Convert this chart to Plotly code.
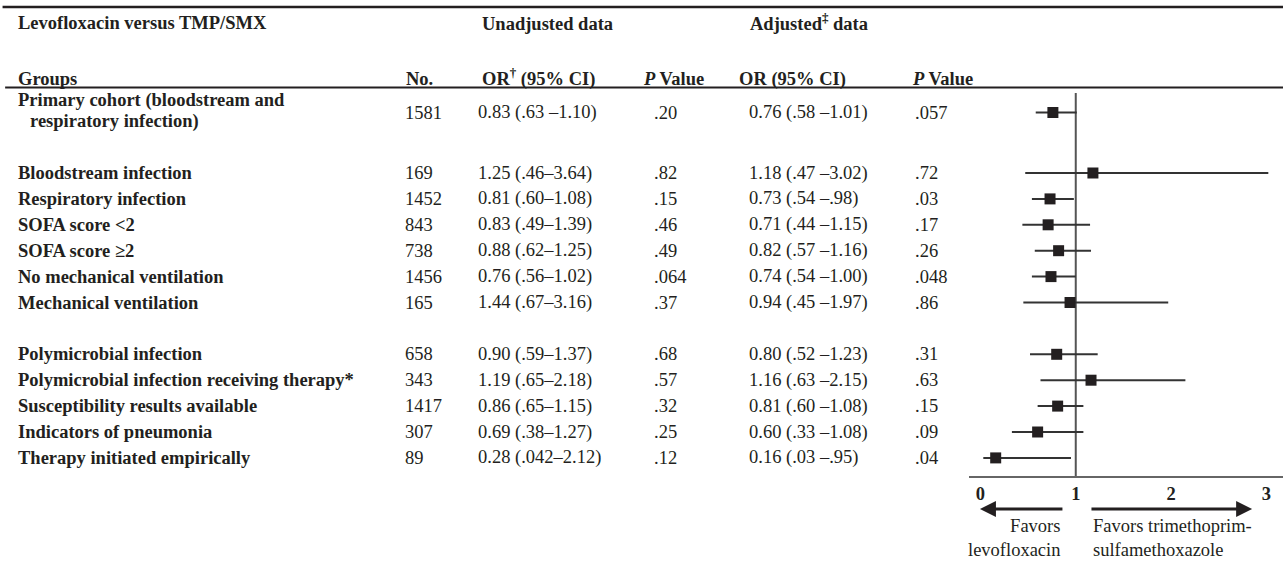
import plotly.graph_objects as go

# ---------------- data ----------------
GROUPS = [
    "Primary cohort (bloodstream and<br>respiratory infection)",
    "Bloodstream infection",
    "Respiratory infection",
    "SOFA score <2",
    "SOFA score ≥2",
    "No mechanical ventilation",
    "Mechanical ventilation",
    "Polymicrobial infection",
    "Polymicrobial infection receiving therapy*",
    "Susceptibility results available",
    "Indicators of pneumonia",
    "Therapy initiated empirically",
]
BLOCK = [0, 1, 1, 1, 1, 1, 1, 2, 2, 2, 2, 2]
N = [1581, 169, 1452, 843, 738, 1456, 165, 658, 343, 1417, 307, 89]

UNADJ_OR = [0.83, 1.25, 0.81, 0.83, 0.88, 0.76, 1.44, 0.90, 1.19, 0.86, 0.69, 0.28]
UNADJ_LO = [0.63, 0.46, 0.60, 0.49, 0.62, 0.56, 0.67, 0.59, 0.65, 0.65, 0.38, 0.042]
UNADJ_HI = [1.10, 3.64, 1.08, 1.39, 1.25, 1.02, 3.16, 1.37, 2.18, 1.15, 1.27, 2.12]
UNADJ_P = [0.20, 0.82, 0.15, 0.46, 0.49, 0.064, 0.37, 0.68, 0.57, 0.32, 0.25, 0.12]

ADJ_OR = [0.76, 1.18, 0.73, 0.71, 0.82, 0.74, 0.94, 0.80, 1.16, 0.81, 0.60, 0.16]
ADJ_LO = [0.58, 0.47, 0.54, 0.44, 0.57, 0.54, 0.45, 0.52, 0.63, 0.60, 0.33, 0.03]
ADJ_HI = [1.01, 3.02, 0.98, 1.15, 1.16, 1.00, 1.97, 1.23, 2.15, 1.08, 1.08, 0.95]
ADJ_P = [0.057, 0.72, 0.03, 0.17, 0.26, 0.048, 0.86, 0.31, 0.63, 0.15, 0.09, 0.04]

X_TICKS = [0, 1, 2, 3]

# ---------------- layout constants (pixels) ----------------
W, H = 1283, 561
FONT = "Liberation Serif"
FS = 18.5
TXT = "#231f20"
STEP = 25.9
FIRST_Y = 112.5
TWO_LINE_EXTRA = 8.7

# columns (left x px)
X_LABEL, X_N, X_UOR, X_UP, X_AOR, X_AP = 16, 403, 476, 652, 747, 913


def fmt(v, lead_zero=False):
    s = f"{v:.3f}".rstrip("0")
    if len(s.split(".")[1]) < 2:
        s = f"{v:.2f}"
    if not lead_zero and s.startswith("0."):
        s = s[1:]
    return s


# compute row y positions
row_y = []
y = FIRST_Y
for i in range(len(GROUPS)):
    if i > 0:
        y += STEP
        if BLOCK[i] != BLOCK[i - 1]:
            y += STEP
        if "<br>" in GROUPS[i - 1]:
            y += TWO_LINE_EXTRA
    row_y.append(y)

fig = go.Figure()

fig.add_trace(go.Scatter(
    x=ADJ_OR, y=row_y, mode="markers",
    marker=dict(symbol="square", size=11, color=TXT, line=dict(width=0)),
    error_x=dict(type="data", symmetric=False,
                 array=[h - o for h, o in zip(ADJ_HI, ADJ_OR)],
                 arrayminus=[o - l for o, l in zip(ADJ_OR, ADJ_LO)],
                 width=0, thickness=2, color="#333333"),
    hoverinfo="skip", showlegend=False,
))

ann = []


def txt(x, yv, s, anchor="left", bold=False, size=FS, align="left"):
    ann.append(dict(
        x=x / W, y=yv, xref="paper", yref="y", text=f"<b>{s}</b>" if bold else s,
        showarrow=False, xanchor=anchor, yanchor="middle", align=align,
        font=dict(family=FONT, size=size, color=TXT),
    ))


# headers
txt(X_LABEL, 23, "Levofloxacin versus TMP/SMX", bold=True)
txt(547.5, 24, "Unadjusted data", anchor="center", bold=True)
txt(808.5, 22, "Adjusted<sup>‡</sup> data", anchor="center", bold=True)
txt(X_LABEL, 79, "Groups", bold=True)
txt(419, 79, "No.", anchor="center", bold=True)
txt(538.5, 77, "OR<sup>†</sup> (95% CI)", anchor="center", bold=True)
txt(673.5, 79, "<i>P</i> Value", anchor="center", bold=True)
txt(792.5, 79, "OR (95% CI)", anchor="center", bold=True)
txt(942.5, 79, "<i>P</i> Value", anchor="center", bold=True)

# rows
for i, g in enumerate(GROUPS):
    yv = row_y[i]
    if "<br>" in g:
        l1, l2 = g.split("<br>")
        txt(X_LABEL, yv - 12, l1, bold=True)
        txt(X_LABEL + 12, yv + 8.5, l2, bold=True)
    else:
        txt(X_LABEL, yv, g, bold=True)
    txt(X_N, yv, str(N[i]))
    sep = " –" if i == 0 else "–"
    txt(X_UOR, yv, f"{fmt(UNADJ_OR[i], True)} ({fmt(UNADJ_LO[i])}{sep}{fmt(UNADJ_HI[i])})")
    txt(X_UP, yv, fmt(UNADJ_P[i]))
    txt(X_AOR, yv, f"{fmt(ADJ_OR[i], True)} ({fmt(ADJ_LO[i])} –{fmt(ADJ_HI[i])})")
    txt(X_AP, yv, fmt(ADJ_P[i]))

# favours arrows
AXIS_Y = 476.7
ARROW_Y = 509
ann.append(dict(x=-0.005, y=ARROW_Y, ax=0.876, ay=ARROW_Y, xref="x", yref="y",
                axref="x", ayref="y", text="", showarrow=True, arrowhead=2,
                arrowsize=1.0, arrowwidth=3.2, arrowcolor=TXT))
ann.append(dict(x=2.85, y=ARROW_Y, ax=1.149, ay=ARROW_Y, xref="x", yref="y",
                axref="x", ayref="y", text="", showarrow=True, arrowhead=2,
                arrowsize=1.0, arrowwidth=3.2, arrowcolor=TXT))
ann.append(dict(x=1062 / W, y=538, xref="paper", yref="y",
                text="Favors<br>levofloxacin", showarrow=False,
                xanchor="right", yanchor="middle", align="right",
                font=dict(family=FONT, size=FS, color=TXT)))
ann.append(dict(x=1091 / W, y=538, xref="paper", yref="y",
                text="Favors trimethoprim-<br>sulfamethoxazole", showarrow=False,
                xanchor="left", yanchor="middle", align="left",
                font=dict(family=FONT, size=FS, color=TXT)))

shapes = [
    dict(type="line", xref="paper", yref="y", x0=0.002, x1=1, y0=7, y1=7,
         line=dict(color=TXT, width=2.5)),
    dict(type="line", xref="paper", yref="y", x0=0.004, x1=1, y0=87.5, y1=87.5,
         line=dict(color=TXT, width=2)),
    dict(type="line", xref="x", yref="y", x0=1, x1=1, y0=93, y1=AXIS_Y,
         line=dict(color="#555555", width=2), layer="below"),
]

fig.update_layout(
    width=W, height=H, margin=dict(l=0, r=0, t=0, b=0),
    paper_bgcolor="white", plot_bgcolor="rgba(0,0,0,0)",
    annotations=ann, shapes=shapes, showlegend=False,
    xaxis=dict(domain=[969 / W, 1], range=[-0.12, 3.174], anchor="free",
               position=1 - AXIS_Y / H, showline=True, linecolor="#666666",
               linewidth=2, tickvals=X_TICKS, ticktext=[str(t) for t in X_TICKS],
               tickfont=dict(family=FONT, size=FS, color=TXT, weight="bold"),
               showgrid=False, zeroline=False, ticks="", fixedrange=True),
    yaxis=dict(domain=[0, 1], range=[H, 0], visible=False, fixedrange=True),
)

fig.write_html("out.html",
               config={"displayModeBar": False},
               post_script="document.body.style.margin='0px';"
                           "document.body.style.overflow='hidden';")
